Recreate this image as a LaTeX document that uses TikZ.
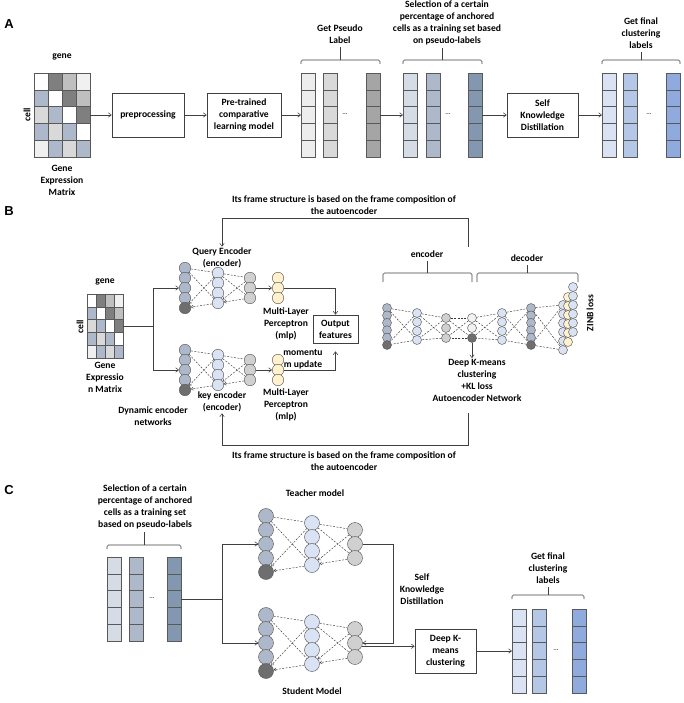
\documentclass[tikz,border=0pt]{standalone}
\usepackage{fontspec}
\setmainfont{Carlito}
\newfontfamily\panelfont{Liberation Sans}
\usepackage{tikz}
\usetikzlibrary{arrows.meta,positioning,calc}
\usepackage{xcolor}
\definecolor{Ink}{HTML}{404040}
\definecolor{Edge}{HTML}{595959}
% matrix cells
\definecolor{MxD}{HTML}{7F7F7F}
\definecolor{MxL}{HTML}{BFBFBF}
\definecolor{MxV}{HTML}{F0F0F0}
\definecolor{MxB}{HTML}{ADB9CA}
\definecolor{MxM}{HTML}{D9D9D9}
% label columns
\definecolor{PsA}{HTML}{EDEDED}
\definecolor{PsB}{HTML}{D9D9D9}
\definecolor{PsC}{HTML}{A5A5A5}
\definecolor{SlA}{HTML}{D6DCE5}
\definecolor{SlB}{HTML}{ADB9CA}
\definecolor{SlC}{HTML}{8497B0}
\definecolor{FnA}{HTML}{DAE3F3}
\definecolor{FnB}{HTML}{B4C7E7}
\definecolor{FnC}{HTML}{8FAADC}
% neurons
\definecolor{NBlue}{HTML}{ADB9CA}
\definecolor{NLight}{HTML}{DAE3F3}
\definecolor{NGray}{HTML}{D0D0D0}
\definecolor{NPale}{HTML}{F2F2F2}
\definecolor{NDark}{HTML}{6E6E6E}
\definecolor{NYel}{HTML}{FFF2CC}
\tikzset{
  txt/.style={font=\fontsize{9.6}{12}\selectfont\bfseries, align=center, inner sep=1pt},
  stepbox/.style={draw=Ink, line width=0.6pt, minimum width=#1, minimum height=44pt,
    txt, inner sep=2pt},
  stepbox/.default={72pt},
  pl/.style={font=\panelfont\fontsize{13}{13}\selectfont\bfseries, inner sep=0pt},
  arr/.style={-{Straight Barb[length=3pt,width=4.5pt]}, line width=0.55pt, draw=Ink},
  line/.style={line width=0.55pt, draw=Ink},
  cellbox/.style={draw=Edge, line width=0.5pt, minimum width=14pt, minimum height=16.8pt,
    inner sep=0pt, outer sep=0pt},
  neuron/.style={circle, draw=Edge, line width=0.45pt, inner sep=0pt},
  link/.style={dash pattern=on 2pt off 1.4pt, line width=0.45pt, draw=Ink!90!black},
  tipin/.style={-{Straight Barb[length=2pt,width=3pt]}},
  notip/.style={-},
  brk/.style={line width=0.55pt, draw=Ink, rounded corners=1.5pt},
}
% one layer of neurons: options, name, x, top y, gap, count, fill, fill of last
\newcommand{\nnlayer}[8]{%
  \foreach \nn in {1,...,#6}{%
    \ifnum\nn=#6\relax\def\nnfill{#8}\else\def\nnfill{#7}\fi
    \node[neuron,#1,fill=\nnfill] (#2-\nn) at (#3,{#4+(\nn-1)*#5}) {};}}
% dashed links between two layers: layer, size, next layer, size, tip
\newcommand{\nnlink}[5]{%
  \draw[link] (#1-1) -- (#3-1);
  \draw[link] (#1-1) -- (#3-#4);
  \draw[link,#5] (#3-1) -- (#1-#2);
  \draw[link,#5] (#3-#4) -- (#1-#2);}
% column of five label cells: name, left x, top y, fill
\newcommand{\labelcol}[4]{%
  \foreach \nn in {1,...,5}{%
    \node[cellbox,fill=#4] (#1-\nn) at ({#2+7},{#3+(\nn-0.5)*16.8}) {};}}
% gene expression matrix: name, left x, top y, cell width, cell height
\newcommand{\exprmat}[5]{%
  \foreach \row [count=\ri] in {{white,MxD,MxL,MxV},{MxB,white,MxD,MxL},
      {MxM,MxB,white,MxD},{MxB,MxM,MxB,white},{MxV,MxB,MxM,MxB}}{%
    \foreach \cc [count=\cj] in \row {%
      \node[draw=Edge, line width=0.5pt, fill=\cc, minimum width=#4pt, minimum height=#5pt,
        inner sep=0pt, outer sep=0pt] (#1-\ri-\cj) at ({#2+(\cj-0.5)*#4},{#3+(\ri-0.5)*#5}) {};}}}
% bracket with a tick up to its label: left x, right x, bar y, drop, label
\newcommand{\bracketbar}[5]{%
  \draw[brk] (#1,#3+#4) -- (#1,#3) -- (#2,#3) -- (#2,#3+#4);
  \coordinate (#5-mid) at ({(#1+#2)/2},#3);
  \draw[brk, rounded corners=0pt, shorten >=2pt] (#5-mid) -- (#5-mid |- #5.south);}

\begin{document}
\begin{tikzpicture}[x=1pt, y=-1pt,
  dots/.style={font=\fontsize{7}{7}\selectfont, inner sep=0pt},
]
\useasboundingbox (0,0) rectangle (683,703);

% ---------------- A ----------------
\node[pl] (pa) at (9,24) {A};
\node[txt] (geneA) at (62,57) {gene};
\exprmat{ma}{34}{73}{14}{16.8}
\node[txt, rotate=90] (cellA) at (27,115) {cell};
\node[txt] (gemA) at (62,180) {Gene\\Expression\\Matrix};

\node[stepbox=72pt] (prep) at (148,115) {preprocessing};
\node[stepbox=74pt] (pretr) at (244,115) {Pre-trained\\comparative\\learning model};

\labelcol{psa}{301}{73}{PsA}
\labelcol{psb}{323}{73}{PsB}
\labelcol{psc}{366}{73}{PsC}
\node[dots] (psdots) at (345,114) {\ldots};
\node[txt] (lblps) at (340,34.5) {Get Pseudo\\Label};
\bracketbar{301}{380}{60}{4}{lblps}

\labelcol{sla}{403}{73}{SlA}
\labelcol{slb}{426}{73}{SlB}
\labelcol{slc}{468}{73}{SlC}
\node[dots] (sldots) at (448,114) {\ldots};
\node[txt] (lblsl) at (447,23) {Selection of a certain\\percentage of anchored\\cells as a training set based\\on pseudo-labels};
\bracketbar{403}{482}{60}{4}{lblsl}

\node[stepbox=71pt] (skd) at (542.5,115) {Self\\Knowledge\\Distillation};

\labelcol{fna}{602}{73}{FnA}
\labelcol{fnb}{623}{73}{FnB}
\labelcol{fnc}{666}{73}{FnC}
\node[dots] (fndots) at (649,114) {\ldots};
\node[txt] (lblfn) at (641,33) {Get final\\clustering\\labels};
\bracketbar{602}{680}{60}{4}{lblfn}

\draw[arr] (ma-3-4.east) -- (prep);
\draw[arr] (prep) -- (pretr);
\draw[arr] (pretr) -- (psa-3);
\draw[arr] (psc-3) -- (sla-3);
\draw[arr] (slc-3) -- (skd);
\draw[arr] (skd) -- (fna-3);

% ---------------- B ----------------
\node[pl] (pb) at (9,211) {B};
\node[txt] (frtop) at (344,205.5) {Its frame structure is based on the frame composition of\\the autoencoder};
\node[txt] (frbot) at (344,461) {Its frame structure is based on the frame composition of\\the autoencoder};

\node[txt] (geneB) at (105,282) {gene};
\exprmat{mb}{87}{294}{9}{12.8}
\node[txt, rotate=90] (cellB) at (80,327) {cell};
\node[txt] (gemB) at (105,377.5) {Gene\\Expressio\\n Matrix};
\coordinate (splitB) at (153,326);

% query / key encoders
\nnlayer{minimum size=11.5pt}{q1}{185}{268}{10}{5}{NBlue}{NDark}
\nnlayer{minimum size=11.5pt}{q2}{218}{273}{10}{4}{NLight}{NLight}
\nnlayer{minimum size=11.5pt}{q3}{250}{278}{10}{3}{NGray}{NGray}
\nnlayer{minimum size=11.5pt}{qm}{278}{278}{10}{3}{NYel}{NYel}
\nnlink{q1}{5}{q2}{4}{tipin}
\nnlink{q2}{4}{q3}{3}{tipin}
\nnlayer{minimum size=11.5pt}{k1}{185}{350}{10}{5}{NBlue}{NDark}
\nnlayer{minimum size=11.5pt}{k2}{218}{355}{10}{4}{NLight}{NLight}
\nnlayer{minimum size=11.5pt}{k3}{250}{360}{10}{3}{NGray}{NGray}
\nnlayer{minimum size=11.5pt}{km}{278}{360}{10}{3}{NYel}{NYel}
\nnlink{k1}{5}{k2}{4}{tipin}
\nnlink{k2}{4}{k3}{3}{tipin}

\node[txt] (qlab) at (222,258) {Query Encoder\\(encoder)};
\node[txt] (klab) at (222,402) {key encoder\\(encoder)};
\node[txt] (qmlp) at (286,324) {Multi-Layer\\Perceptron\\(mlp)};
\node[txt] (kmlp) at (286,404.5) {Multi-Layer\\Perceptron\\(mlp)};
\node[txt] (mom) at (303,359) {momentu\\m update};
\node[txt] (dyn) at (153,416) {Dynamic encoder\\networks};
\node[draw=Ink, line width=0.6pt, txt, minimum width=45pt, minimum height=28pt] (outf) at (335.5,329) {Output\\features};

\draw[line] (mb-3-4.east) -- (splitB);
\draw[arr] (splitB) |- (q1-3);
\draw[arr] (splitB) |- (k1-3);
\draw[arr] (q3-2) -- (qm-2);
\draw[arr] (k3-2) -- (km-2);
\draw[arr] (qm-2) -| (outf.north);
\draw[arr, shorten >=8pt] (km-2) -| (outf.south);

% autoencoder
\nnlayer{minimum size=9pt}{ae1}{387}{308}{7.4}{6}{NBlue}{NDark}
\nnlayer{minimum size=9pt}{ae2}{417}{313}{9}{4}{NLight}{NLight}
\nnlayer{minimum size=9pt}{ae3}{446}{318}{10}{3}{NGray}{NGray}
\nnlayer{minimum size=9pt}{ae4}{472}{318}{10}{3}{NPale}{NDark}
\nnlayer{minimum size=9pt}{ae5}{502}{313}{9}{4}{NLight}{NLight}
\nnlayer{minimum size=9pt}{ae6}{531}{308}{7.4}{6}{NBlue}{NDark}
\nnlayer{minimum size=9pt}{aoa}{563}{305}{9}{6}{NLight}{NLight}
\nnlayer{minimum size=9pt}{aob}{568}{297}{9}{6}{NYel}{NYel}
\nnlayer{minimum size=9pt}{aoc}{573}{287}{9}{6}{NLight}{NLight}
\nnlink{ae1}{6}{ae2}{4}{notip}
\nnlink{ae2}{4}{ae3}{3}{notip}
\nnlink{ae3}{3}{ae4}{3}{notip}
\nnlink{ae4}{3}{ae5}{4}{notip}
\nnlink{ae5}{4}{ae6}{6}{notip}
\nnlink{ae6}{6}{aoa}{6}{notip}

\node[txt] (encl) at (427,254) {encoder};
\node[txt] (decl) at (527,258) {decoder};
\bracketbar{383}{472}{273}{9}{encl}
\bracketbar{477}{578}{273}{9}{decl}
\node[txt, rotate=90] (zinb) at (590,313) {ZINB loss};
\node[txt] (dkl) at (477,380.5) {Deep K-means\\clustering\\+KL loss\\Autoencoder Network};
\draw[arr] (ae4-3) -- (ae4-3 |- dkl.north);

\coordinate (aetop) at (468,247);
\coordinate (aebot) at (468,413);
\draw[arr] (aetop) -- ++(0,-29) -| (qlab.north);
\draw[arr] (aebot) -- ++(0,32) -| (klab.south);

% ---------------- C ----------------
\node[pl] (pc) at (9,490) {C};
\node[txt] (lblsc) at (145,506.5) {Selection of a certain\\percentage of anchored\\cells as a training set\\based on pseudo-labels};
\labelcol{sca}{107}{557}{SlA}
\labelcol{scb}{129}{557}{SlB}
\labelcol{scc}{167}{557}{SlC}
\node[dots] (scdots) at (152,598) {\ldots};
\bracketbar{107}{181}{545}{4}{lblsc}

\nnlayer{minimum size=15pt}{t1}{266}{516}{14}{5}{NBlue}{NDark}
\nnlayer{minimum size=15pt}{t2}{312}{523}{14}{4}{NLight}{NLight}
\nnlayer{minimum size=15pt}{t3}{355}{530}{14}{3}{NGray}{NGray}
\nnlink{t1}{5}{t2}{4}{tipin}
\nnlink{t2}{4}{t3}{3}{tipin}
\nnlayer{minimum size=15pt}{s1}{266}{615}{14}{5}{NBlue}{NDark}
\nnlayer{minimum size=15pt}{s2}{312}{622}{14}{4}{NLight}{NLight}
\nnlayer{minimum size=15pt}{s3}{355}{629}{14}{3}{NGray}{NGray}
\nnlink{s1}{5}{s2}{4}{tipin}
\nnlink{s2}{4}{s3}{3}{tipin}
\node[txt] (teach) at (315,493) {Teacher model};
\node[txt] (stud) at (312,691) {Student Model};

\coordinate (splitC) at (222,599);
\draw[line] (scc-3.east) -- (splitC);
\draw[arr] (splitC) |- (t1-3);
\draw[arr] (splitC) |- (s1-3);

\coordinate (kdturn) at (393,544);
\draw[arr] (t3-2) -- (kdturn) |- (s3-2);
\node[txt] (kdl) at (422,589) {Self\\Knowledge\\Distillation};
\node[stepbox=61pt] (dkm) at (445.5,651) {Deep K-\\means\\clustering};
\draw[arr] (s3-2.-25) -- (s3-2.-25 -| dkm.west);

\labelcol{fca}{512}{609}{FnA}
\labelcol{fcb}{532}{609}{FnB}
\labelcol{fcc}{572}{609}{FnC}
\node[dots] (fcdots) at (556,650) {\ldots};
\node[txt] (lblfc) at (548,568.5) {Get final\\clustering\\labels};
\bracketbar{512}{584}{595}{4}{lblfc}
\draw[arr] (dkm) -- (fca-3);
\end{tikzpicture}
\end{document}
